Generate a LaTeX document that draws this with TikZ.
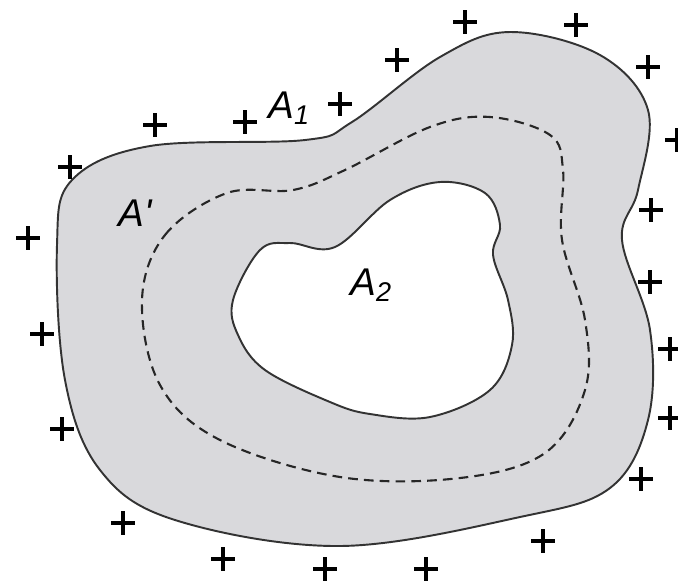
\documentclass[tikz,border=0pt]{standalone}
\usepackage{fontspec}
\setmainfont{Liberation Sans}
\usepackage{xcolor}
\usepackage{tikz}

\definecolor{regionfill}{RGB}{217,217,220}

\begin{document}
\begin{tikzpicture}[
  x=0.02cm, y=-0.02cm,
  region/.style={draw=black!80, line width=1.1pt, fill=regionfill},
  hole/.style={draw=black!80, line width=1.1pt, fill=white},
  gauss/.style={draw=black!85, line width=1.2pt, dash pattern=on 5.5pt off 3.5pt},
  charge/.style={line width=1.9pt},
  lbl/.style={font=\fontsize{22}{26}\selectfont\itshape, inner sep=0pt, anchor=base west}
]
\useasboundingbox (0,0) rectangle (678,586);
\draw[region] plot[smooth cycle, tension=0.6] coordinates {
  (57,245) (72,180) (150,146) (305,140) (352,122) (440,57) (510,32)
  (600,55) (648,110) (638,190) (622,240) (650,330) (648,420) (610,488)
  (520,517) (340,546) (175,520) (100,470) (65,380)};
\draw[gauss] plot[smooth cycle, tension=0.6] coordinates {
  (142,300) (165,235) (227,193) (293,190) (345,170) (430,127) (490,117)
  (550,135) (563,170) (562,240) (585,320) (585,390) (545,453) (460,478)
  (340,477) (220,440) (160,385)};
\draw[hole] plot[smooth cycle, tension=0.6] coordinates {
  (233,300) (260,250) (290,243) (335,247) (390,200) (440,182) (485,193)
  (500,225) (493,255) (508,300) (512,345) (490,390) (430,417) (370,414)
  (330,402) (265,370) (238,335)};
\foreach \x/\y in {155/125, 245/122, 340/104, 397/60, 465/22, 576/25,
  648/67, 677/140, 651/210, 650/282, 670/349, 670/418, 641/479, 543/541,
  426/569, 325/569, 223/559, 123/523, 62/429, 42/334, 28/238, 70/167}
  \draw[charge] (\x,\y) +(-12,0) -- +(12,0) +(0,-12) -- +(0,12);
\node[lbl] (labA1) at (268,118) {A\textsubscript{1}};
\node[lbl] (labAp) at (118,226) {A\textquotesingle};
\node[lbl] (labA2) at (350,295) {A\textsubscript{2}};
\end{tikzpicture}
\end{document}
